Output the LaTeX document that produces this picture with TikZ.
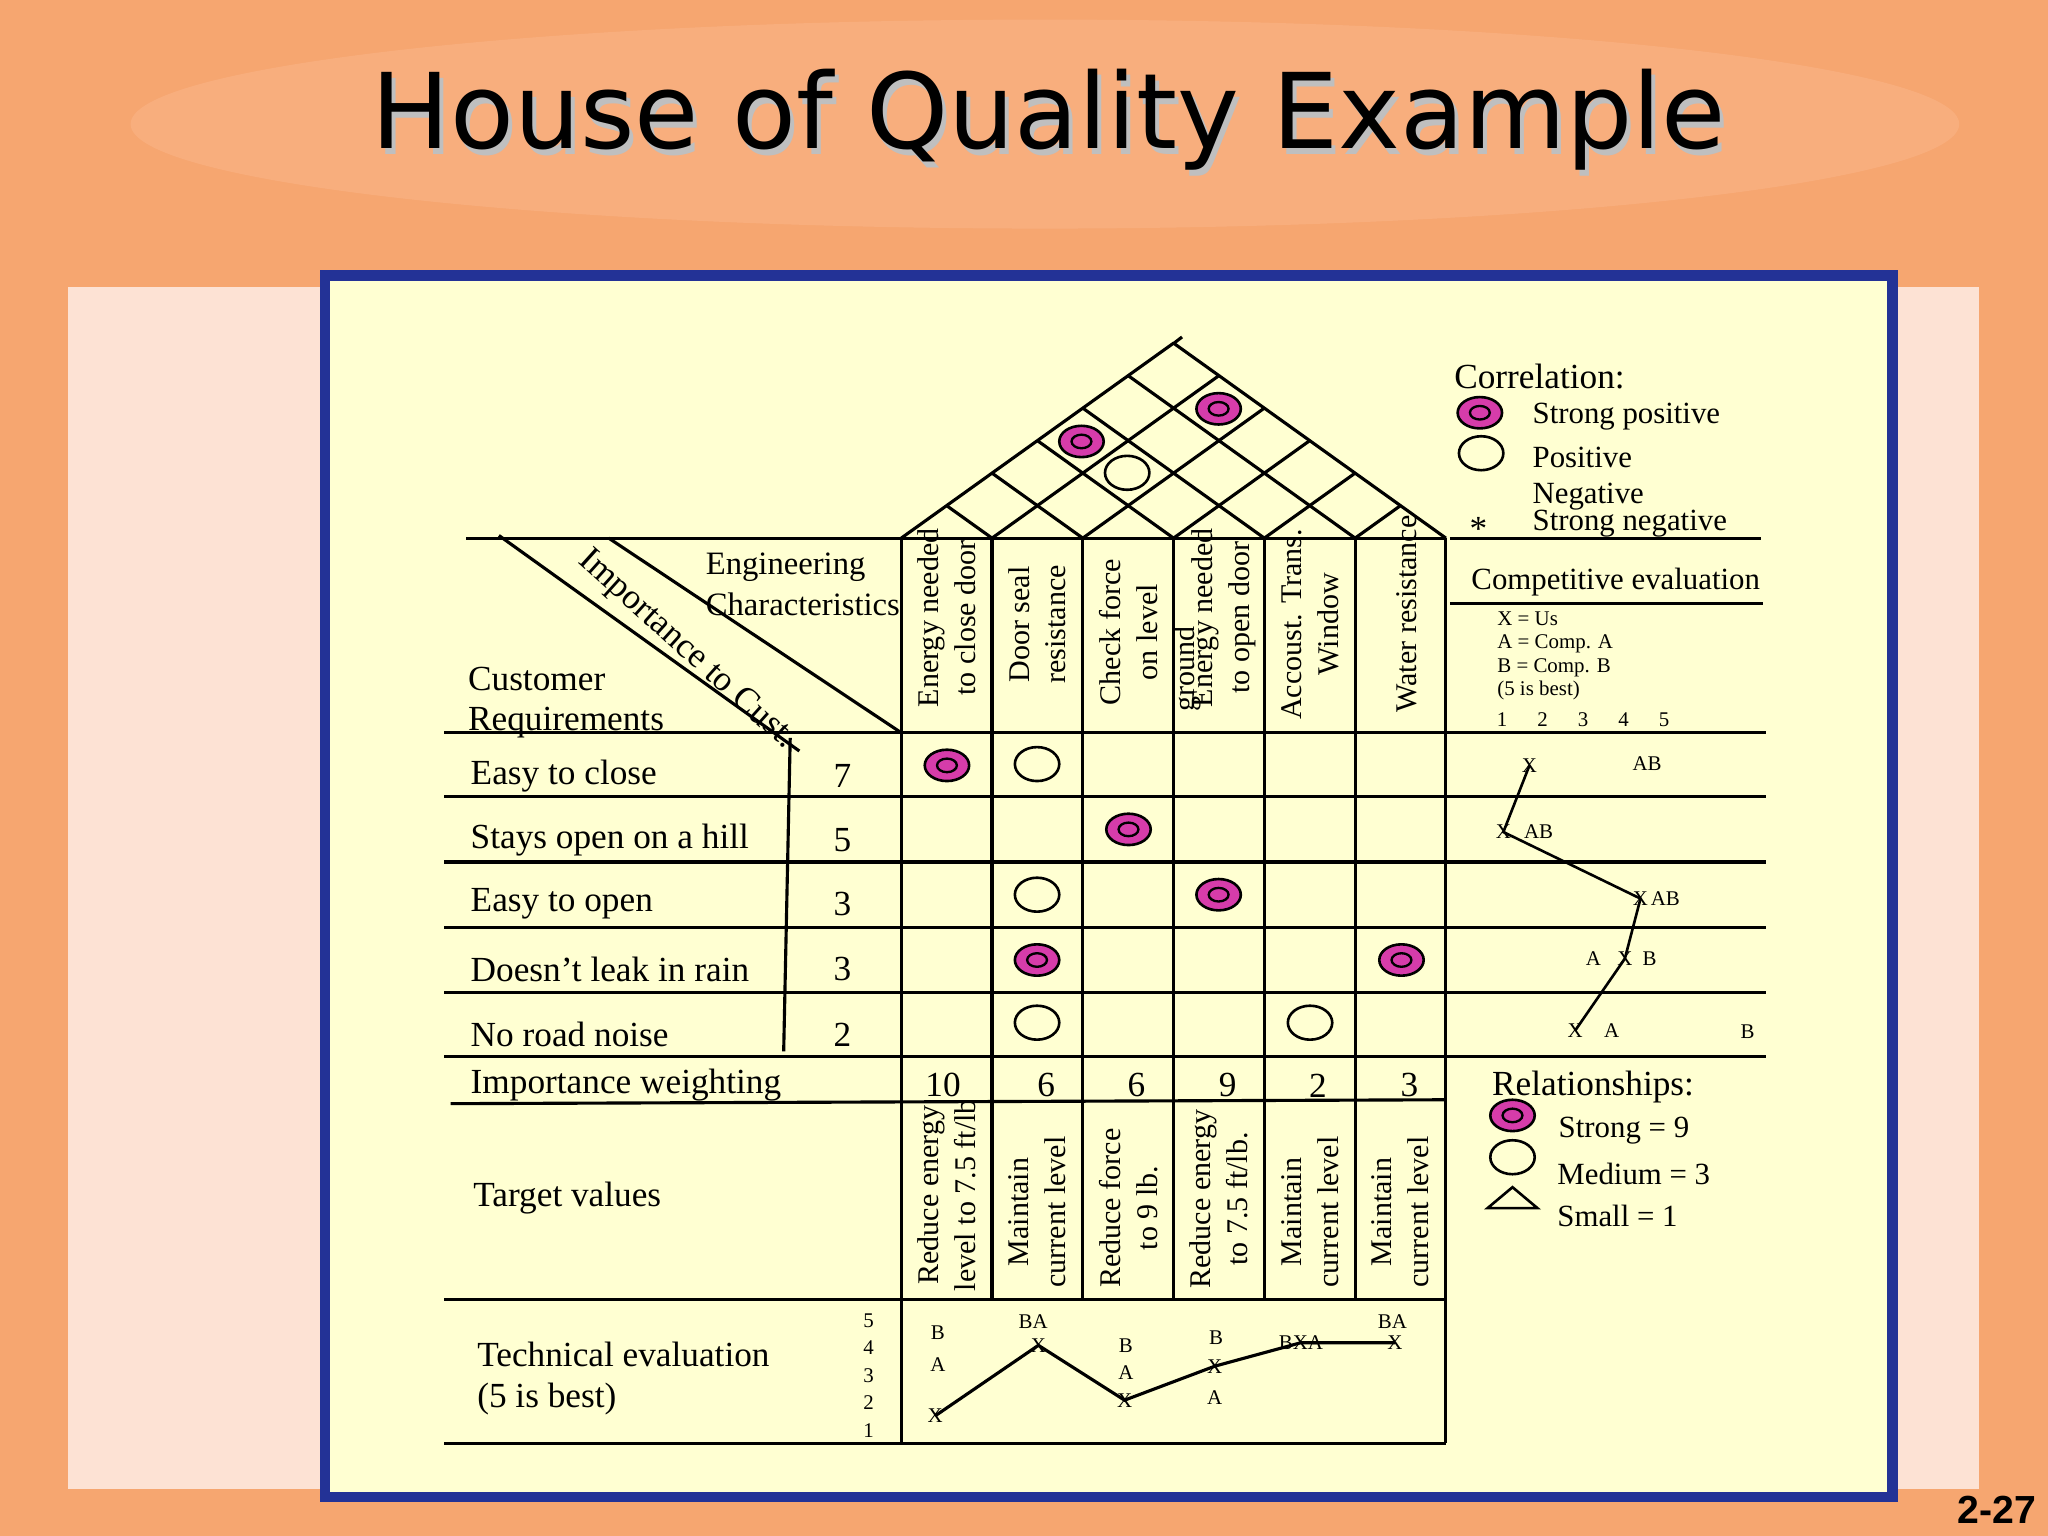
\documentclass[tikz,border=0pt]{standalone}
\usepackage{fontspec}
\setmainfont{Liberation Serif}
\newfontfamily\titlefont{DejaVu Sans}
\newfontfamily\numfont{Liberation Sans}
\definecolor{bgor}{RGB}{246,166,112}
\definecolor{bgor2}{RGB}{250,180,135}
\definecolor{pinkp}{RGB}{253,226,212}
\definecolor{yel}{RGB}{255,255,210}
\definecolor{blu}{RGB}{35,50,150}
\definecolor{mag}{RGB}{214,60,170}
\tikzset{
 ln/.style={line width=1.2pt},
 strongsym/.style={ellipse,draw,fill=mag,line width=1pt,minimum width=17pt,minimum height=12pt,inner sep=0pt,
   path picture={\draw[line width=0.9pt] (path picture bounding box.center) ellipse (3.8pt and 2.6pt);}},
 possym/.style={ellipse,draw,line width=1pt,minimum width=17pt,minimum height=13pt,inner sep=0pt},
 lab/.style={font=\fontsize{13.5}{15}\selectfont,inner sep=0pt},
 hdr/.style={font=\fontsize{11.5}{14}\selectfont,rotate=90,align=center,inner sep=0pt},
 sm/.style={font=\fontsize{8}{9}\selectfont,inner sep=0pt},
 leg/.style={font=\fontsize{11.8}{13}\selectfont,inner sep=0pt},
}
\usetikzlibrary{shapes.geometric}
\begin{document}
\begin{tikzpicture}[x=0.5pt,y=-0.5pt]
\useasboundingbox (0,0) rectangle (1568,1176);
\fill[bgor] (0,0) rectangle (1568,1176);
\fill[bgor2,opacity=0.6] (800,95) ellipse (700 and 80);
\fill[pinkp] (52,220) rectangle (1515,1140);
\draw[blu,line width=4pt,fill=yel] (249,211) rectangle (1449,1146);
% title
\node[font=\titlefont\fontsize{40}{44}\selectfont,text=gray!50] (tsh) at (806,96) {House of Quality Example};
\node[font=\titlefont\fontsize{40}{44}\selectfont] (title) at (803,92) {House of Quality Example};
\node[font=\numfont\bfseries\fontsize{15}{16}\selectfont,anchor=east] (pg) at (1566,1156) {2-27};
% grid
\foreach \x in {690,759.5,829,898.5,968,1037.5} \draw[ln] (\x,412) -- (\x,995);
\draw[ln] (1107,412) -- (1107,1105);
\draw[ln] (690,995) -- (690,1105);
\draw[ln] (357,412) -- (690,412) -- (1107,412);
\draw[ln] (1110,412) -- (1348,412);
\draw[ln] (1110,462) -- (1350,462);
\foreach \y in {561,610,660,710,760,809} \draw[ln] (340,\y) -- (1352,\y);
\draw[ln] (345,845) -- (1107,842);
\draw[ln] (340,995) -- (1107,995);
\draw[ln] (340,1105) -- (1107,1105);
\draw[ln] (382,410) -- (612,575);
\draw[ln] (466,412) -- (690,561);
\draw[ln] (605,565) -- (600,805);
% roof
\foreach \i in {0,...,6}{
 \pgfmathsetmacro\xa{690+69.5*\i}
 \draw[ln] (\xa,412) -- ({(\xa+1107)/2},{412-0.716*(1107-\xa)/2});
 \draw[ln] (\xa,412) -- ({(\xa+690)/2},{412-0.716*(\xa-690)/2});
}
\draw[ln] (898.5,263) -- (905,258);
\node[strongsym] (r1) at (828,338) {};
\node[strongsym] (r2) at (933,313) {};
\node[possym] (r3) at (863,362) {};
% header labels
\node[lab,font=\fontsize{12.5}{14}\selectfont,anchor=west] (eng1) at (540,434) {Engineering};
\node[lab,font=\fontsize{12.5}{14}\selectfont,anchor=west] (eng2) at (540,463) {Characteristics};
\node[lab,anchor=west] (cr1) at (358,520) {Customer};
\node[lab,anchor=west] (cr2) at (358,553) {Requirements};
\node[lab,rotate=-42,anchor=west] (imp) at (446,426) {Importance to Cust.};
\node[hdr] (h1) at (725,473) {Energy needed\\to close door};
\node[hdr] (h2) at (794,478) {Door seal\\resistance};
\node[hdr] (h3) at (864,484) {Check force\\on level};
\node[hdr,anchor=west] (h3b) at (909,545) {ground};
\node[hdr] (h4) at (937,473) {Energy needed\\to open door};
\node[hdr] (h5) at (1003,478) {Accoust. Trans.\\Window};
\node[hdr] (h6) at (1077,470) {Water resistance};
% rows
\foreach \t/\v/\y in {Easy to close/7/594, Stays open on a hill/5/643, Easy to open/3/692, Doesn’t leak in rain/3/742, No road noise/2/792}{
 \node[lab,anchor=west] at (360,\y) {\t};
 \node[lab] at (645,\y) {\v};
}
\node[lab,anchor=west] (iw) at (360,831) {Importance weighting};
\foreach \v/\x in {10/722,6/801,6/870,9/940,2/1009,3/1079} \node[lab] at (\x,831) {\v};
\node[lab,anchor=west] (tv) at (362,917) {Target values};
\node[lab,anchor=west] (te1) at (365,1037) {Technical evaluation};
\node[lab,anchor=west] (te2) at (365,1071) {(5 is best)};
% cells
\node[strongsym] (c11) at (725,586) {};
\node[possym] (c12) at (794,585) {};
\node[strongsym] (c23) at (864,635) {};
\node[possym] (c32) at (794,685) {};
\node[strongsym] (c34) at (933,685) {};
\node[strongsym] (c42) at (794,735) {};
\node[strongsym] (c46) at (1073,735) {};
\node[possym] (c52) at (794,783) {};
\node[possym] (c55) at (1003,783) {};
% target values
\node[hdr] (t1) at (725,915) {Reduce energy\\level to 7.5 ft/lb};
\node[hdr] (t2) at (794,928) {Maintain\\current level};
\node[hdr] (t3) at (864,925) {Reduce force\\to 9 lb.};
\node[hdr] (t4) at (933,918) {Reduce energy\\to 7.5 ft/lb.};
\node[hdr] (t5) at (1003,928) {Maintain\\current level};
\node[hdr] (t6) at (1072,928) {Maintain\\current level};
% technical evaluation
\foreach \v/\y in {5/1011,4/1032,3/1053,2/1074,1/1095} \node[sm] at (665,\y) {\v};
\node[sm] at (718,1020) {B};
\node[sm] at (718,1045) {A};
\node[sm] (x1) at (716,1084) {X};
\node[sm] at (791,1012) {BA};
\node[sm] (x2) at (795,1030) {X};
\node[sm] at (862,1030) {B};
\node[sm] at (862,1051) {A};
\node[sm] (x3) at (861,1072) {X};
\node[sm] at (931,1024) {B};
\node[sm] (x4) at (930,1046) {X};
\node[sm] at (930,1070) {A};
\node[sm] (x5) at (996,1028) {BXA};
\node[sm] at (1066,1012) {BA};
\node[sm] (x6) at (1068,1028) {X};
\draw[ln] (x1.center) -- (x2.center) -- (x3.center) -- (x4.center) -- (x5.center) -- (x6.center);
% correlation legend
\node[lab,anchor=west] (corr) at (1113,288) {Correlation:};
\node[strongsym] (l1) at (1133,316) {};
\node[possym] (l2) at (1134,347) {};
\node[leg,anchor=west] at (1173,319) {Strong positive};
\node[leg,anchor=west] at (1173,350) {Positive};
\node[leg,anchor=west] at (1173,380) {Negative};
\node[lab] (ast) at (1132,405) {*};
\node[leg,anchor=west] at (1173,401) {Strong negative};
\node[leg] (ce) at (1237,446) {Competitive evaluation};
\node[sm,anchor=west,align=left] (cel) at (1146,502) {X = Us\\A = Comp. A\\B = Comp. B\\(5 is best)};
\foreach \v/\x in {1/1150,2/1181,3/1212,4/1243,5/1274} \node[sm] at (\x,551) {\v};
\node[sm] (e1) at (1171,586) {X};
\node[sm] at (1261,585) {AB};
\node[sm] (e2) at (1151,637) {X};
\node[sm] at (1178,637) {AB};
\node[sm] (e3) at (1256,688) {X};
\node[sm] at (1275,688) {AB};
\node[sm] at (1220,734) {A};
\node[sm] (e4) at (1244,734) {X};
\node[sm] at (1263,734) {B};
\node[sm] (e5) at (1206,789) {X};
\node[sm] at (1234,789) {A};
\node[sm] at (1338,790) {B};
\draw[line width=1pt] (e1.center) -- (e2.center) -- (e3.center) -- (e4.center) -- (e5.center);
% relationships legend
\node[lab,anchor=west] (rel) at (1142,832) {Relationships:};
\node[strongsym] (s1) at (1158,854) {};
\node[possym] (s2) at (1158,886) {};
\node[draw,line width=1pt,isosceles triangle,isosceles triangle apex angle=100,shape border rotate=90,minimum width=16pt,minimum height=8pt,inner sep=0pt] (s3) at (1158,918) {};
\node[leg,anchor=west] at (1193,866) {Strong = 9};
\node[leg,anchor=west] at (1192,899) {Medium = 3};
\node[leg,anchor=west] at (1192,931) {Small = 1};
\end{tikzpicture}
\end{document}
